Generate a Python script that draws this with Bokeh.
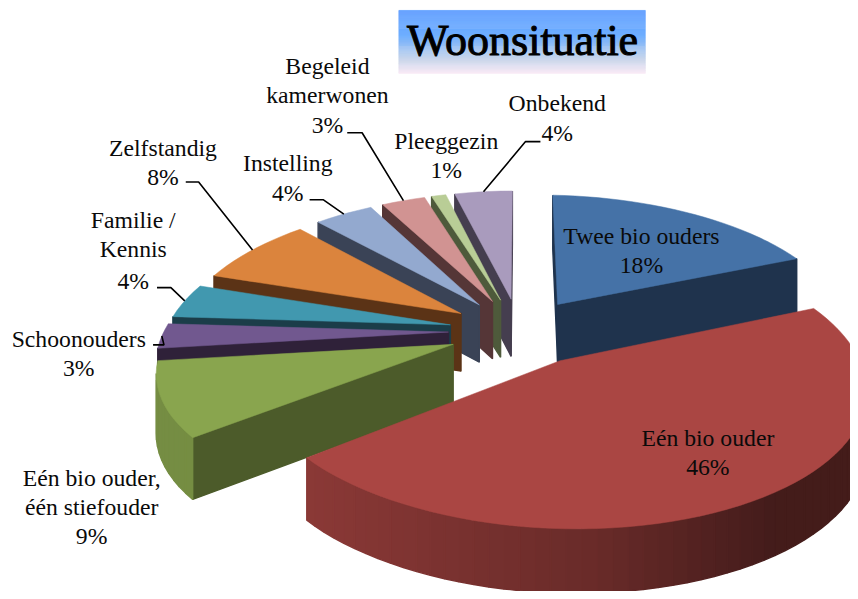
import numpy as np
from bokeh.plotting import figure
from bokeh.core.properties import value
from bokeh.embed import file_html
from bokeh.resources import INLINE

# ---- data -------------------------------------------------------------
categories = ["Twee bio ouders", "Eén bio ouder", "Eén bio ouder, één stiefouder",
              "Schoonouders", "Familie / Kennis", "Zelfstandig", "Instelling",
              "Begeleid kamerwonen", "Pleeggezin", "Onbekend"]
percentages = [18, 46, 9, 3, 4, 8, 4, 3, 1, 4]
title_text = "Woonsituatie"

# ---- styles -----------------------------------------------------------
top_colors = ["#4572a7", "#aa4643", "#89a54e", "#71588f", "#4198af",
              "#db843d", "#93a9cf", "#d19392", "#b9cd96", "#a99bbd"]
wall_colors = ["#1f334d", "#4f1f1d", "#4c5b2a", "#2f2139", "#1b3d49",
               "#5b3316", "#3a4356", "#553637", "#4e5a3b", "#453e4f"]
# line centres of the label texts
label_lines = [
    [("Twee bio ouders", 647, 239), ("18%", 647, 268)],
    [("Eén bio ouder", 714, 443), ("46%", 714, 473)],
    [("Eén bio ouder,", 92, 484), ("één stiefouder", 92, 513), ("9%", 92, 543)],
    [("Schoonouders", 79, 343), ("3%", 79, 372)],
    [("Familie /", 134, 222), ("Kennis", 134, 252), ("4%", 134, 284)],
    [("Zelfstandig", 164, 149), ("8%", 164, 179)],
    [("Instelling", 290, 165), ("4%", 290, 195)],
    [("Begeleid", 330, 66), ("kamerwonen", 330, 96), ("3%", 330, 126)],
    [("Pleeggezin", 450, 142), ("1%", 450, 172)],
    [("Onbekend", 562, 104), ("4%", 562, 134)],
]
# leader line: text end and elbow, the third point is the slice's arc middle
leaders = {3: [(154, 349), (165, 349)], 4: [(158, 291), (172, 291)],
           5: [(187, 184), (200, 184)], 6: [(312, 202), (326, 202)],
           7: [(350, 134), (365, 134)], 9: [(545, 143), (530, 143)]}
title_stops_y = [10, 35, 60, 74]
title_stops_rgb = [(90, 155, 255), (112, 176, 255), (200, 212, 234), (251, 233, 246)]

# ---- projection -------------------------------------------------------
CX, CY, RX, RY, K, DEPTH, EXPLODE = 524, 335, 295, 135, 0.15, 59, 0.25


def proj(x, y):
    w = 1 + K * y
    fx = 1 - 0.03 * max(0.0, y + 0.9) if x < 0 else 1.0
    roll = 5 * x if x > 0 else 5 * x * max(0.0, -y)
    return CX + RX * x * fx / w, CY - RY * y / w + roll, w


def depth(w):
    return DEPTH * w ** -0.5


def shade(hexc, f):
    r, g, b = (int(hexc[i:i + 2], 16) for i in (1, 3, 5))
    return "#%02x%02x%02x" % (int(r * f), int(g * f), int(b * f))


p = figure(width=850, height=591, x_range=(0, 858), y_range=(599, 0),
           toolbar_location=None, output_backend="svg", min_border=0,
           outline_line_color=None, background_fill_color="white")
p.axis.visible = False
p.grid.visible = False

cum = np.cumsum([0] + percentages) / sum(percentages) * 2 * np.pi
anchors = {}


def draw_slice(i):
    a0, a1 = cum[i], cum[i + 1]
    mid = (a0 + a1) / 2
    ex, ey = EXPLODE * np.sin(mid), EXPLODE * np.cos(mid)
    n = max(3, int((a1 - a0) / np.radians(2.5)))
    t = np.linspace(a0, a1, n + 1)
    pts = [proj(ex, ey)] + [proj(ex + np.sin(a), ey + np.cos(a)) for a in t]
    anchors[i] = proj(ex + np.sin(mid), ey + np.cos(mid))[:2]
    m = len(pts)
    for j in range(m):
        q0, q1 = pts[j], pts[(j + 1) % m]
        if q1[0] - q0[0] >= 0:
            continue  # back-facing wall
        radial = j == 0 or j == m - 1
        if radial:
            col = wall_colors[i]
        else:
            xm = (q0[0] + q1[0]) / 2
            col = shade(top_colors[i], float(np.interp(xm, [180, 307, 600, 780], [0.86, 0.82, 0.62, 0.40])))
        xs = [q0[0], q1[0], q1[0], q0[0]]
        ys = [q0[1], q1[1], q1[1] + depth(q1[2]), q0[1] + depth(q0[2])]
        p.patch(xs, ys, fill_color=col, line_color=col, line_width=1.4)
    p.patch([q[0] for q in pts], [q[1] for q in pts], fill_color=top_colors[i],
            line_color=top_colors[i], line_width=0.5)


for i in [0, 9, 8, 7, 6, 5, 4, 3, 2, 1]:
    draw_slice(i)

# title box
ys = np.arange(title_stops_y[0], title_stops_y[-1])
for y in ys:
    rgb = [int(np.interp(y, title_stops_y, [c[k] for c in title_stops_rgb])) for k in range(3)]
    col = "#%02x%02x%02x" % tuple(rgb)
    p.quad(left=402, right=651, top=int(y), bottom=int(y) + 1, fill_color=col, line_color=col, line_width=0.3)
p.text([527], [41], text=[title_text], text_font=value("Liberation Serif"), text_font_size="44px",
       text_align="center", text_baseline="middle", text_color="#000000",
       text_outline_color="#000000")

# leaders
for i, lead in leaders.items():
    ax, ay = anchors[i]
    p.line([lead[0][0], lead[1][0], ax], [lead[0][1], lead[1][1], ay], line_color="#000000", line_width=1.6)

# labels
for lines in label_lines:
    for txt, x, y in lines:
        p.text([x], [y], text=[txt], text_font=value("Liberation Serif"), text_font_size="23.7px",
               text_align="center", text_baseline="middle", text_color="#0a0a0a")

open("out.html", "w").write(file_html(p, INLINE))
